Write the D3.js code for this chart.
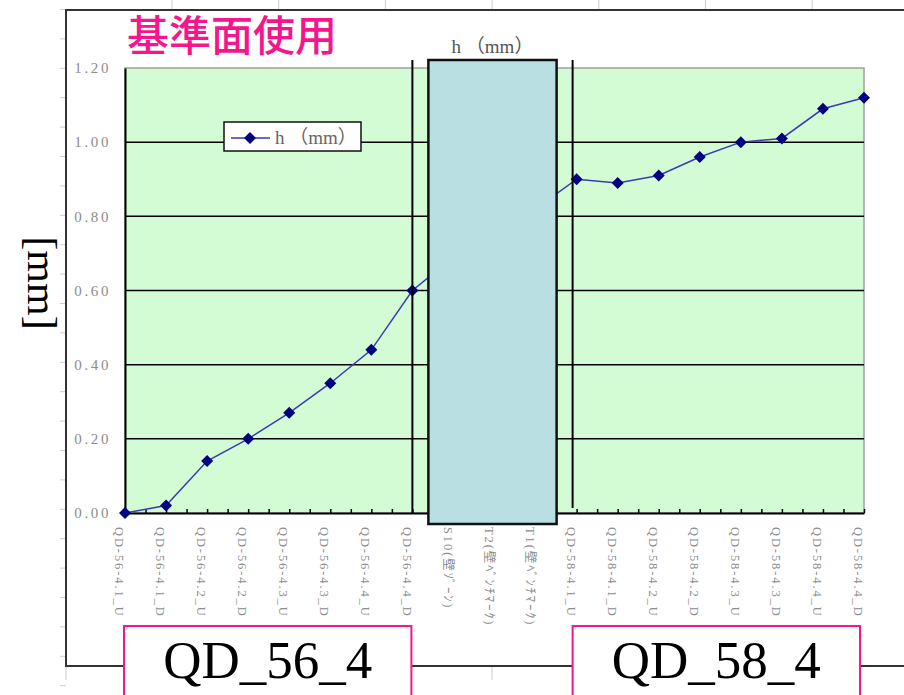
<!DOCTYPE html>
<html>
<head>
<meta charset="utf-8">
<script src="https://cdn.jsdelivr.net/npm/d3@7"></script>
<style>
  body { margin: 0; background: #fff; }
  svg { display: block; }
</style>
</head>
<body>
<svg id="chart" width="904" height="695"></svg>
<script>
// categories along the x axis
const categories = [
  "QD-56-4.1_U", "QD-56-4.1_D", "QD-56-4.2_U", "QD-56-4.2_D",
  "QD-56-4.3_U", "QD-56-4.3_D", "QD-56-4.4_U", "QD-56-4.4_D",
  "S10(壁ｿﾞｰﾝ)", "T2(壁ﾍﾞﾝﾁﾏｰｸ)", "T1(壁ﾍﾞﾝﾁﾏｰｸ)",
  "QD-58-4.1_U", "QD-58-4.1_D", "QD-58-4.2_U", "QD-58-4.2_D",
  "QD-58-4.3_U", "QD-58-4.3_D", "QD-58-4.4_U", "QD-58-4.4_D"
];
// h (mm)
const hValues = [0.00, 0.02, 0.14, 0.20, 0.27, 0.35, 0.44, 0.60,
  0.69, 0.75, 0.82,
  0.90, 0.89, 0.91, 0.96, 1.00, 1.01, 1.09, 1.12];
const yTicks = [0, 0.2, 0.4, 0.6, 0.8, 1.0, 1.2];
const seriesName = "h （mm）";
const groupLabels = ["QD_56_4", "QD_58_4"];
const groupRange = [[0, 7], [11, 18]];

const magenta = "#f5168c";
const svg = d3.select("#chart");

// spreadsheet cell lines around the chart object
const sheet = svg.append("g");
d3.range(172, 904, 106.7).forEach(x =>
  sheet.append("line").attr("x1", x).attr("x2", x).attr("y1", 0).attr("y2", 10)
    .attr("stroke", "#ccc"));
d3.range(9.5, 690, 29.4).forEach(y =>
  sheet.append("line").attr("x1", 60).attr("x2", 66).attr("y1", y).attr("y2", y)
    .attr("stroke", "#ccc"));
sheet.append("line").attr("x1", 66).attr("x2", 66).attr("y1", 666).attr("y2", 680).attr("stroke", "#ccc");
sheet.append("line").attr("x1", 492).attr("x2", 492).attr("y1", 666).attr("y2", 680).attr("stroke", "#ccc");

// chart frame
svg.append("path")
  .attr("d", "M904,10 H66 V666 H904")
  .attr("fill", "none").attr("stroke", "#333").attr("stroke-width", 2);

// scales
const x = d3.scalePoint().domain(categories).range([125, 864]);
const xi = d3.scaleLinear().domain([0, categories.length - 1]).range([125, 864]);
const y = d3.scaleLinear().domain([0, 1.2]).range([513, 68]);

// plot area
svg.append("rect")
  .attr("x", x.range()[0]).attr("y", y(1.2))
  .attr("width", x.range()[1] - x.range()[0]).attr("height", y(0) - y(1.2))
  .attr("fill", "#d4fcd4").attr("stroke", "#a0a0a0").attr("stroke-width", 1.5);

// gridlines
svg.append("g").selectAll("line").data(yTicks.filter(d => d > 0 && d < 1.2)).join("line")
  .attr("x1", x.range()[0]).attr("x2", x.range()[1])
  .attr("y1", d => y(d)).attr("y2", d => y(d))
  .attr("stroke", "#000").attr("stroke-width", 1.5);

// y axis
const yAxis = svg.append("g").attr("transform", `translate(${x.range()[0]},0)`)
  .call(d3.axisLeft(y).tickValues(yTicks).tickFormat(d3.format(".2f")).tickSize(0).tickPadding(14));
yAxis.select(".domain").attr("stroke", "#000").attr("stroke-width", 2);
yAxis.selectAll("text")
  .attr("font-family", "'Liberation Serif', serif").attr("font-size", 15)
  .attr("letter-spacing", 2.6).attr("fill", "#8c8c8c");

// x axis: small inner ticks every half category
const xTickAxis = svg.append("g").attr("transform", `translate(0,${y(0)})`)
  .call(d3.axisBottom(xi).tickValues(d3.range(0, categories.length - 0.9, 0.5))
    .tickSize(-4).tickSizeOuter(0).tickFormat(""));
xTickAxis.select(".domain").attr("stroke", "#000").attr("stroke-width", 2);
xTickAxis.selectAll(".tick line").attr("stroke", "#000").attr("stroke-width", 1.5);

// x category labels
const xAxis = svg.append("g").attr("transform", `translate(0,${y(0)})`)
  .call(d3.axisBottom(x).tickSize(0).tickPadding(0));
xAxis.select(".domain").remove();
xAxis.selectAll("text")
  .attr("text-anchor", "start")
  .attr("transform", "translate(-6,14) rotate(90)")
  .attr("x", 0).attr("y", 0).attr("dy", "0.35em")
  .attr("font-family", "'Liberation Serif', 'Noto Sans CJK JP', serif")
  .attr("font-size", 12.5).attr("letter-spacing", 1.9).attr("fill", "#8c8c8c");

// line + markers
const line = d3.line().x((d, i) => x(categories[i])).y(d => y(d));
svg.append("path").datum(hValues)
  .attr("d", line).attr("fill", "none")
  .attr("stroke", "#3a3ab4").attr("stroke-width", 1.5);
const diamond = d3.symbol().type(d3.symbolSquare).size(72);
svg.append("g").selectAll("path").data(hValues).join("path")
  .attr("d", diamond)
  .attr("transform", (d, i) => `translate(${x(categories[i])},${y(d)}) rotate(45)`)
  .attr("fill", "#000080");

// group separators
const sepLeft = x(categories[7]);
const sepRight = x(categories[11]) - 4;
svg.append("line").attr("x1", sepLeft).attr("x2", sepLeft)
  .attr("y1", y(1.2) - 8).attr("y2", y(0))
  .attr("stroke", "#000").attr("stroke-width", 2);
svg.append("line").attr("x1", sepRight).attr("x2", sepRight)
  .attr("y1", y(1.2) - 8).attr("y2", y(0) - 5)
  .attr("stroke", "#000").attr("stroke-width", 2);

// covering box over the wall benchmarks
svg.append("rect")
  .attr("x", sepLeft + 16).attr("y", y(1.2) - 8)
  .attr("width", sepRight - 16 - sepLeft - 16).attr("height", y(0) - y(1.2) + 19)
  .attr("fill", "#badfe2").attr("stroke", "#111").attr("stroke-width", 2.5);

// chart title
svg.append("text")
  .attr("x", (sepLeft + sepRight) / 2).attr("y", 53)
  .attr("text-anchor", "middle")
  .attr("font-family", "'Liberation Serif', 'Noto Sans CJK JP', serif")
  .attr("font-size", 19).attr("fill", "#555")
  .text(seriesName);

// legend
const lg = svg.append("g").attr("transform", "translate(224,122)");
lg.append("rect").attr("width", 137).attr("height", 29)
  .attr("fill", "#fff").attr("stroke", "#111").attr("stroke-width", 1.5);
lg.append("line").attr("x1", 7).attr("x2", 46).attr("y1", 16).attr("y2", 16)
  .attr("stroke", "#3a3ab4").attr("stroke-width", 1.5);
lg.append("path").attr("d", diamond).attr("transform", "translate(26,16) rotate(45)").attr("fill", "#000080");
lg.append("text").attr("x", 51).attr("y", 22)
  .attr("font-family", "'Liberation Serif', 'Noto Sans CJK JP', serif")
  .attr("font-size", 19).attr("fill", "#666")
  .text(seriesName);

// magenta note
svg.append("text").attr("x", 127).attr("y", 51)
  .attr("font-family", "'Noto Sans CJK JP', sans-serif")
  .attr("font-size", 42).attr("font-weight", 500).attr("fill", magenta)
  .text("基準面使用");

// unit label
svg.append("text")
  .attr("transform", "translate(39,283) rotate(90)")
  .attr("text-anchor", "middle").attr("dy", "0.26em")
  .attr("font-family", "'Liberation Serif', serif")
  .attr("font-size", 42).attr("fill", "#000")
  .text("[mm]");

// group name boxes
groupLabels.forEach((name, k) => {
  const x0 = x(categories[groupRange[k][0]]) - 1;
  const x1 = x(categories[groupRange[k][1]]) - (k === 0 ? 1 : 4);
  const left = k === 0 ? x0 : sepRight;
  svg.append("rect").attr("x", left).attr("y", 626)
    .attr("width", x1 - left).attr("height", 100)
    .attr("fill", "#fff").attr("stroke", magenta).attr("stroke-width", 2);
  svg.append("text").attr("x", (left + x1) / 2).attr("y", 678)
    .attr("text-anchor", "middle")
    .attr("font-family", "'Liberation Serif', serif")
    .attr("font-size", 53).attr("fill", "#000")
    .text(name);
});
</script>
</body>
</html>
